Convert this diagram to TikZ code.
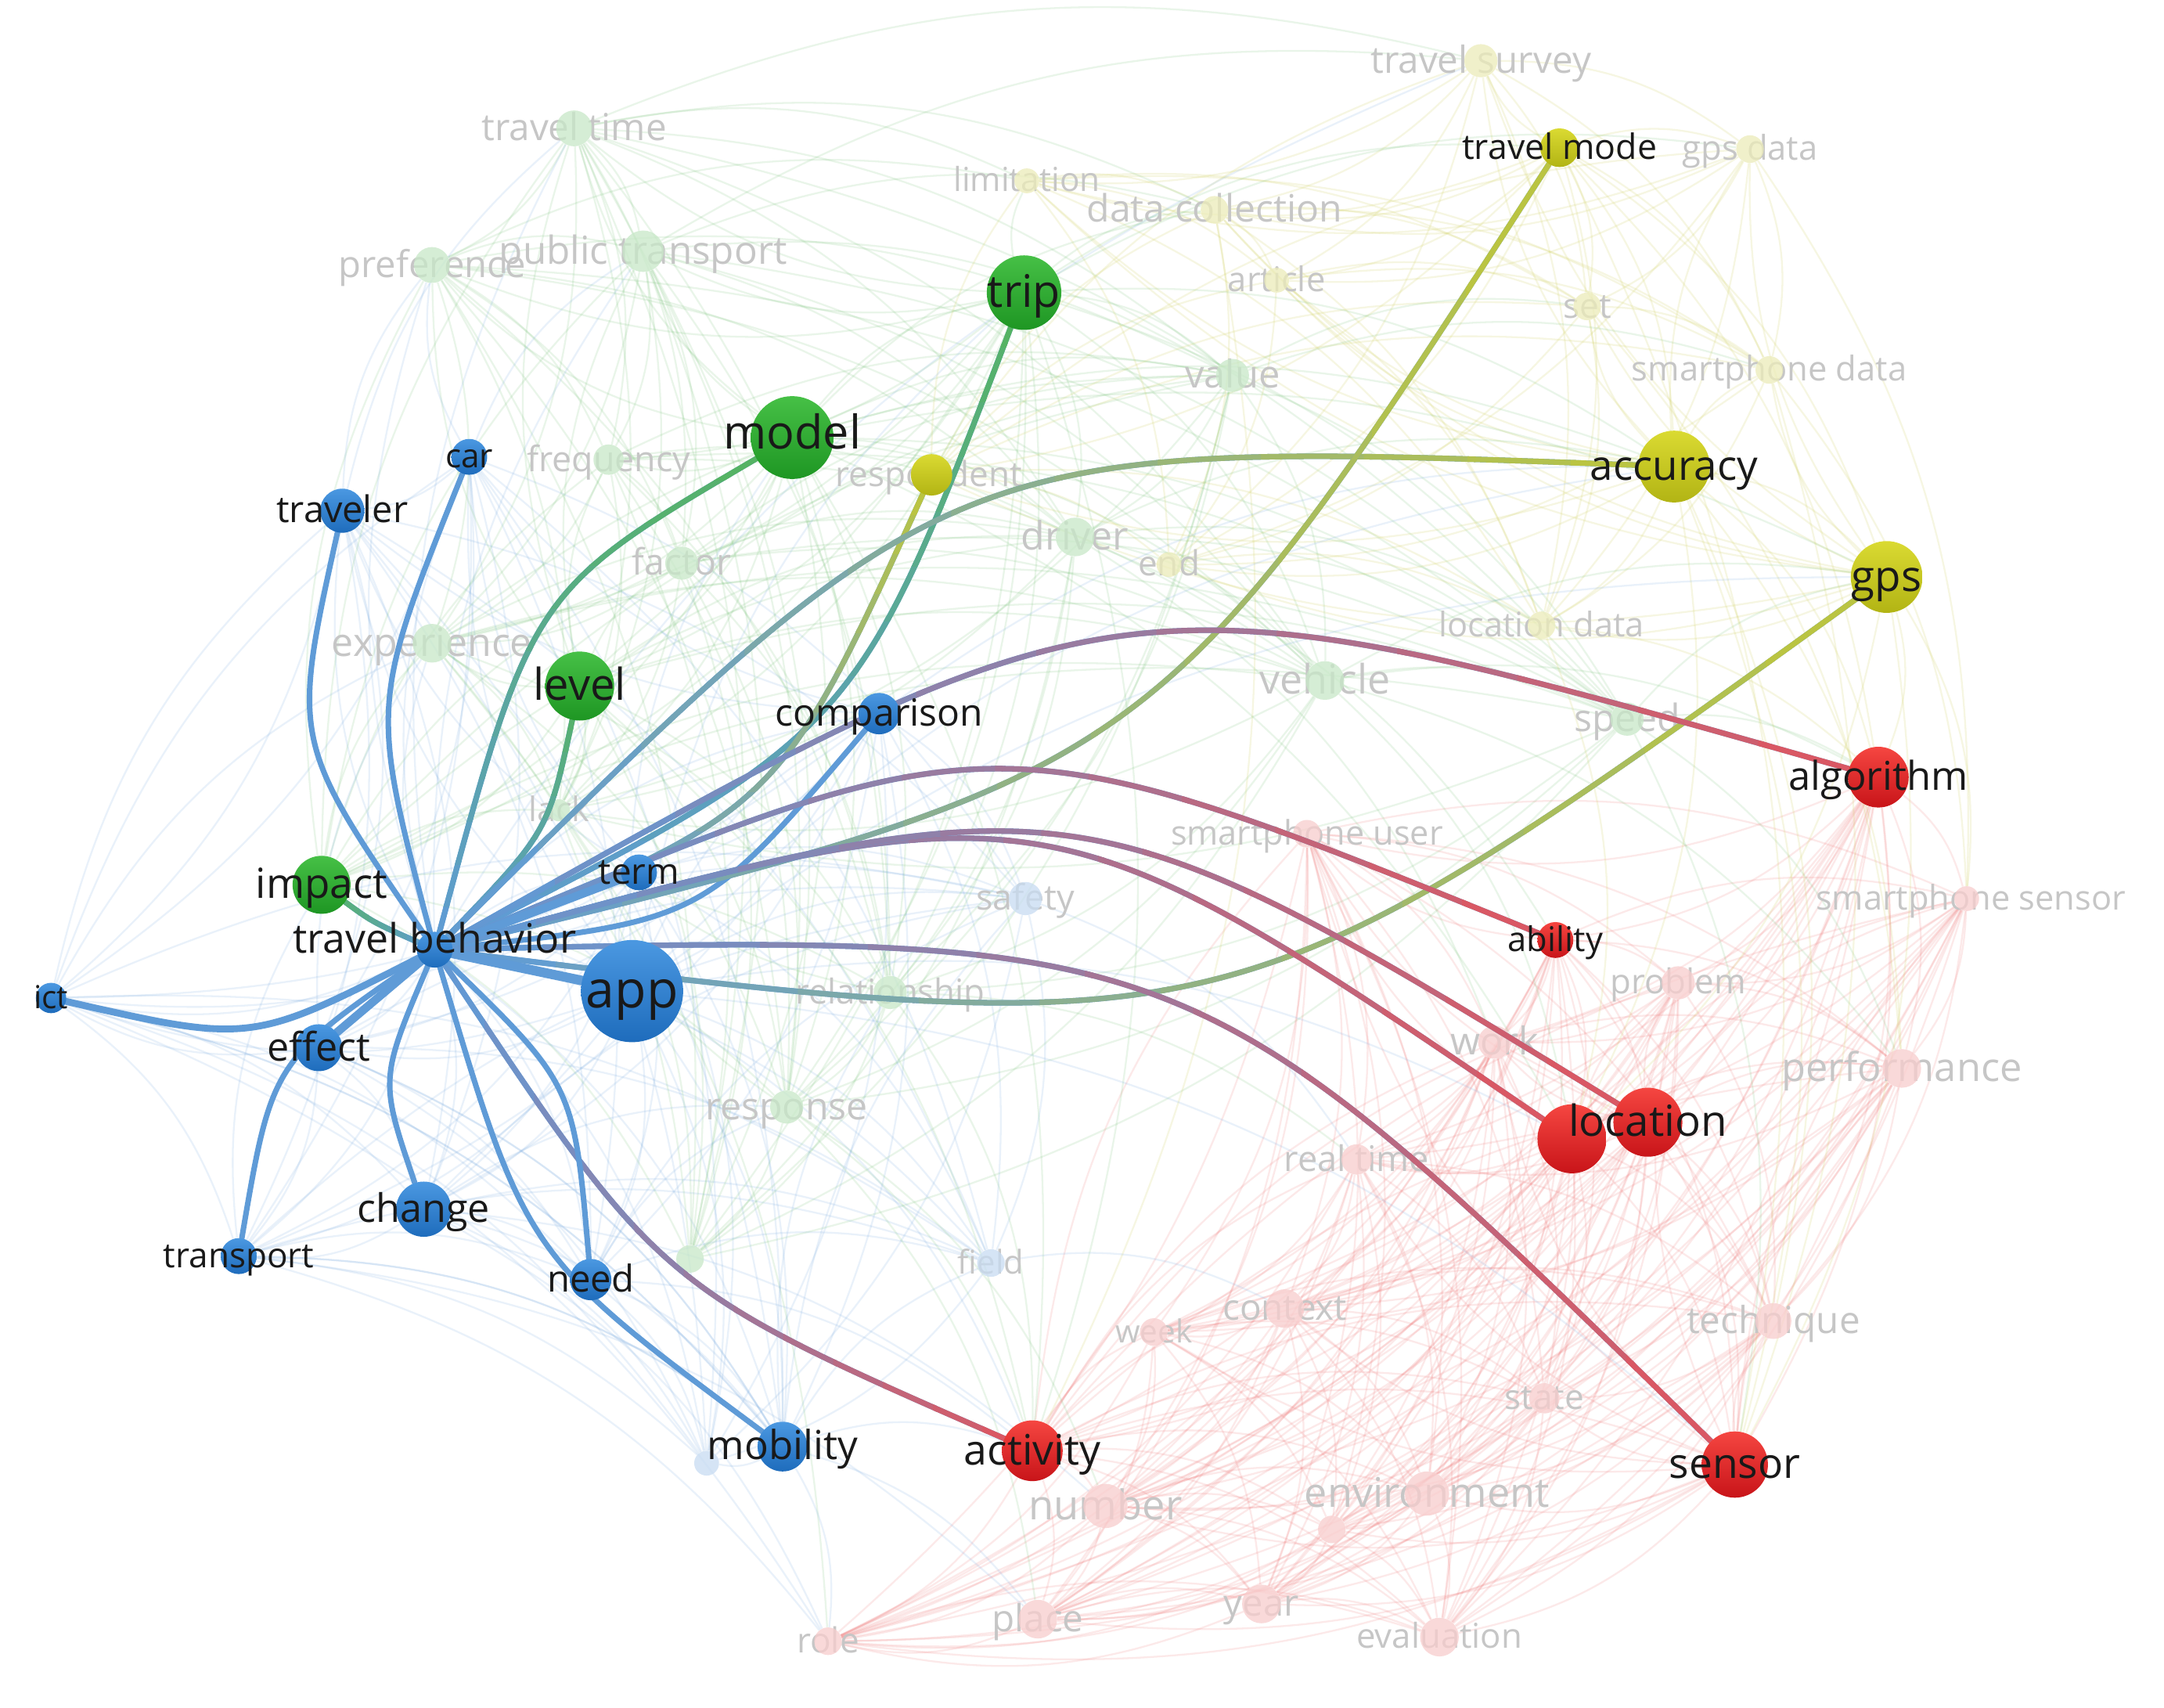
\documentclass[tikz,border=0pt]{standalone}
\usepackage{fontspec}
\setmainfont{Open Sans}
\pgfdeclarelayer{bg}
\pgfdeclarelayer{mid}
\pgfdeclarelayer{hl}
\pgfsetlayers{bg,mid,hl,main}

\definecolor{Btop}{RGB}{75,152,225}
\definecolor{Bbot}{RGB}{30,108,188}
\definecolor{Gtop}{RGB}{70,192,70}
\definecolor{Gbot}{RGB}{30,150,35}
\definecolor{Ytop}{RGB}{218,218,50}
\definecolor{Ybot}{RGB}{178,180,20}
\definecolor{Rtop}{RGB}{245,70,65}
\definecolor{Rbot}{RGB}{200,20,25}
\definecolor{eB}{RGB}{95,155,215}
\definecolor{eG}{RGB}{85,180,95}
\definecolor{eY}{RGB}{190,198,60}
\definecolor{eR}{RGB}{222,85,95}
\definecolor{fB}{RGB}{120,170,225}
\definecolor{fG}{RGB}{120,195,120}
\definecolor{fY}{RGB}{205,205,80}
\definecolor{fR}{RGB}{240,120,120}
\definecolor{cB}{RGB}{200,220,242}
\definecolor{cG}{RGB}{200,232,200}
\definecolor{cY}{RGB}{236,236,185}
\definecolor{cR}{RGB}{248,205,205}
\definecolor{ink}{RGB}{25,25,25}
\definecolor{pale}{RGB}{198,198,198}

\newcommand{\fsz}[1]{\fontsize{#1}{#1}\selectfont}

\tikzset{
  x=1pt, y=-1pt,
  ballnode/.style={circle, inner sep=0pt, minimum size=2*#1},
  hb/.style={ballnode=#1, top color=Btop, bottom color=Bbot},
  hg/.style={ballnode=#1, top color=Gtop, bottom color=Gbot},
  hy/.style={ballnode=#1, top color=Ytop, bottom color=Ybot},
  hr/.style={ballnode=#1, top color=Rtop, bottom color=Rbot},
  fb/.style={ballnode=#1, fill=cB, fill opacity=.75},
  fg/.style={ballnode=#1, fill=cG, fill opacity=.75},
  fy/.style={ballnode=#1, fill=cY, fill opacity=.75},
  fr/.style={ballnode=#1, fill=cR, fill opacity=.75},
  lab/.style={inner sep=0pt, text=ink, font=\fsz{#1}, text height=0.72*#1, text depth=0.06*#1},
  flab/.style={lab=#1, text=pale},
  faint/.style={line width=1.3pt, draw=#1, draw opacity=.16},
  hl/.style={line cap=round, line width=4pt},
}

\newcommand{\clique}[2]{%
  \foreach \a [count=\i] in {#2} {
    \foreach \b [count=\j] in {#2} {
      \ifnum\j>\i \draw[faint=#1] (\a) to[bend left=18] (\b); \fi
    }
  }%
}
% gradient link, colour changing along x: from, control, to, end colour, x0, x1
\newcommand{\gedgeX}[6]{%
  \draw[hl, draw=eB] (#1) .. controls #2 .. (#3);
  \foreach \k in {0,...,11} {
    \pgfmathsetmacro\xa{#5+(#6-#5)*\k/12}
    \pgfmathsetmacro\xb{#5+(#6-#5)*(\k+1.08)/12+(\k==11)*(#6-#5)*0.5}
    \pgfmathsetmacro\pc{100*(\k+0.5)/12}
    \begin{scope}
      \clip (\xa,-50) rectangle (\xb,1300);
      \draw[hl, draw=#4!\pc!eB] (#1) .. controls #2 .. (#3);
    \end{scope}
  }%
}
% gradient link, colour changing along y
\newcommand{\gedgeY}[6]{%
  \draw[hl, draw=eB] (#1) .. controls #2 .. (#3);
  \foreach \k in {0,...,11} {
    \pgfmathsetmacro\ya{#5+(#6-#5)*\k/12}
    \pgfmathsetmacro\yb{#5+(#6-#5)*(\k+1.08)/12+(\k==11)*(#6-#5)*0.5}
    \pgfmathsetmacro\pc{100*(\k+0.5)/12}
    \begin{scope}
      \clip (-50,\ya) rectangle (1700,\yb);
      \draw[hl, draw=#4!\pc!eB] (#1) .. controls #2 .. (#3);
    \end{scope}
  }%
}

\begin{document}
\begin{tikzpicture}
\begin{pgfonlayer}{bg}
\fill[white] (0,0) rectangle (1568,1237);
\end{pgfonlayer}
\useasboundingbox (0,0) rectangle (1568,1237);

% ---------- faded nodes ----------
\begin{pgfonlayer}{mid}
% green
\node[flab=27]   (ttime-l)  at (416,93)  {travel time};
\node[flab=26.8] (pref-l)   at (313,192) {preference};
\node[flab=28]   (ptrans-l) at (466,182) {public transport};
\node[flab=25.4] (freq-l)   at (441,333) {frequency};
\node[flab=26.3] (factor-l) at (494,408) {factor};
\node[flab=28.4] (exper-l)  at (313,466) {experience};
\node[flab=27.7] (value-l)  at (893,272) {value};
\node[flab=28.4] (driver-l) at (779,389) {driver};
\node[flab=29.4] (vehicle-l) at (960,493) {vehicle};
\node[flab=27.3] (speed-l)  at (1179,521) {speed};
\node[flab=24.8] (relat-l)  at (645,719) {relationship};
\node[flab=27.4] (respo-l)  at (570,802) {response};
\node[flab=24.5] (lack-l)   at (405,587) {lack};
% yellow
\node[flab=27]   (tsurv-l)  at (1073,44) {travel survey};
\node[flab=24.7] (gpsd-l)   at (1268,108) {gps data};
\node[flab=24]   (limit-l)  at (744,131) {limitation};
\node[flab=27.3] (dcoll-l)  at (880,152) {data collection};
\node[flab=24.7] (article-l) at (925,203) {article};
\node[flab=25]   (set-l)    at (1150,222) {set};
\node[flab=24.7] (sdata-l)  at (1282,268) {smartphone data};
\node[flab=25]   (endn-l)   at (847,409) {end};
\node[flab=24.6] (ldata-l)  at (1117,453) {location data};
\node[flab=25]   (respd-l)  at (673,344) {respondent};
% red
\node[flab=24.5] (suser-l)  at (947,604) {smartphone user};
\node[flab=24.6] (ssensor-l) at (1428,651) {smartphone sensor};
\node[flab=24.8] (problem-l) at (1216,712) {problem};
\node[flab=27.7] (work-l)   at (1083,755) {work};
\node[flab=28.7] (perf-l)   at (1378,774) {performance};
\node[flab=25.6] (rtime-l)  at (983,840) {real time};
\node[flab=26]   (context-l) at (931,948) {context};
\node[flab=23]   (week-l)   at (836,965) {week};
\node[flab=27]   (tech-l)   at (1285,957) {technique};
\node[flab=25]   (state-l)  at (1119,1013) {state};
\node[flab=29.7] (number-l) at (801,1091) {number};
\node[flab=29.6] (env-l)    at (1034,1082) {environment};
\node[flab=27]   (place-l)  at (752,1173) {place};
\node[flab=26.7] (year-l)   at (914,1162) {year};
\node[flab=25]   (role-l)   at (600,1189) {role};
\node[flab=24.8] (eval-l)   at (1043,1186) {evaluation};
% blue
\node[flab=25.5] (safety-l) at (743,651) {safety};
\node[flab=23.7] (field-l)  at (718,915) {field};

% faded circles
\node[fg=13] (ttime)  at (416,93) {};
\node[fg=13] (pref)   at (313,192) {};
\node[fg=15] (ptrans) at (466,182) {};
\node[fg=11] (freq)   at (441,333) {};
\node[fg=12] (factor) at (494,408) {};
\node[fg=14] (exper)  at (313,466) {};
\node[fg=12] (value)  at (893,272) {};
\node[fg=14] (driver) at (779,389) {};
\node[fg=14] (vehicle) at (960,493) {};
\node[fg=12] (speed)  at (1179,521) {};
\node[fg=12] (relat)  at (645,719) {};
\node[fg=12] (respo)  at (570,802) {};
\node[fg=8]  (lack)   at (405,587) {};
\node[fg=10] (gdot)   at (500,912) {};
\node[fy=12] (tsurv)  at (1073,44) {};
\node[fy=10] (gpsd)   at (1268,108) {};
\node[fy=9]  (limit)  at (744,131) {};
\node[fy=10] (dcoll)  at (880,152) {};
\node[fy=9]  (article) at (925,203) {};
\node[fy=10] (set)    at (1150,222) {};
\node[fy=10] (sdata)  at (1282,268) {};
\node[fy=9]  (endn)   at (847,409) {};
\node[fy=10] (ldata)  at (1117,453) {};
\node[fr=10] (suser)  at (947,604) {};
\node[fr=9]  (ssensor) at (1425,651) {};
\node[fr=12] (problem) at (1216,712) {};
\node[fr=12] (work)   at (1083,755) {};
\node[fr=14] (perf)   at (1378,774) {};
\node[fr=11] (rtime)  at (983,840) {};
\node[fr=14] (context) at (931,948) {};
\node[fr=10] (week)   at (836,965) {};
\node[fr=13] (tech)   at (1285,957) {};
\node[fr=11] (state)  at (1119,1013) {};
\node[fr=16] (number) at (801,1091) {};
\node[fr=16] (env)    at (1034,1082) {};
\node[fr=10] (rdot)   at (965,1108) {};
\node[fr=14] (place)  at (752,1173) {};
\node[fr=14] (year)   at (914,1162) {};
\node[fr=10] (role)   at (600,1189) {};
\node[fr=14] (eval)   at (1043,1186) {};
\node[fb=12] (safety) at (743,651) {};
\node[fb=10] (field)  at (718,915) {};
\node[fb=9]  (bdot)   at (512,1060) {};
\end{pgfonlayer}

% ---------- highlighted nodes ----------
\node[hb=13] (tb)    at (315,688) {};
\node[hb=37] (app)   at (458,718) {};
\node[hb=15] (comp)  at (637,517) {};
\node[hb=13] (term)  at (463,632) {};
\node[hb=13] (car)   at (340,331) {};
\node[hb=16] (trav)  at (248,370) {};
\node[hb=17] (eff)   at (231,759) {};
\node[hb=11] (ict)   at (37,723) {};
\node[hb=20] (chg)   at (307,876) {};
\node[hb=13] (tsp)   at (173,910) {};
\node[hb=15] (need)  at (428,927) {};
\node[hb=18] (mob)   at (567,1048) {};
\node[hg=30] (model) at (574,317) {};
\node[hg=27] (trip)  at (742,212) {};
\node[hg=25] (level) at (420,497) {};
\node[hg=21] (impact) at (233,641) {};
\node[hy=14] (tmode) at (1130,107) {};
\node[hy=26] (acc)   at (1213,338) {};
\node[hy=26] (gps)   at (1367,418) {};
\node[hy=15] (respd) at (675,344) {};
\node[hr=22] (alg)   at (1361,563) {};
\node[hr=13] (abil)  at (1127,681) {};
\node[hr=25] (loc)   at (1139,825) {};
\node[hr=25] (loc2)  at (1194,813) {};
\node[hr=22] (act)   at (748,1051) {};
\node[hr=24] (sensor) at (1257,1061) {};

\node[lab=29.4] (tb-l)    at (315,681) {travel behavior};
\node[lab=37.5] (app-l)   at (app)   {app};
\node[lab=27.2] (comp-l)  at (comp)  {comparison};
\node[lab=26]   (term-l)  at (term)  {term};
\node[lab=24]   (car-l)   at (car)   {car};
\node[lab=26.6] (trav-l)  at (trav)  {traveler};
\node[lab=28.5] (eff-l)   at (eff)   {effect};
\node[lab=23]   (ict-l)   at (ict)   {ict};
\node[lab=28.5] (chg-l)   at (chg)   {change};
\node[lab=25]   (tsp-l)   at (tsp)   {transport};
\node[lab=26.8] (need-l)  at (need)  {need};
\node[lab=29]   (mob-l)   at (mob)   {mobility};
\node[lab=33.7] (model-l) at (574,314) {model};
\node[lab=32.5] (trip-l)  at (trip)  {trip};
\node[lab=31.8] (level-l) at (level) {level};
\node[lab=30]   (impact-l) at (impact) {impact};
\node[lab=25.3] (tmode-l) at (tmode) {travel mode};
\node[lab=30]   (acc-l)   at (acc)   {accuracy};
\node[lab=31]   (gps-l)   at (gps)   {gps};
\node[lab=28.8] (alg-l)   at (alg)   {algorithm};
\node[lab=24.7] (abil-l)  at (abil)  {ability};
\node[lab=31]   (loc2-l)  at (loc2)  {location};
\node[lab=30.4] (act-l)   at (act)   {activity};
\node[lab=30.3] (sensor-l) at (sensor) {sensor};

% ---------- faint background links ----------
\begin{pgfonlayer}{bg}
\clique{fB}{tb,app,comp,term,car,trav,eff,ict,chg,tsp,need,mob,safety,field,bdot}
\clique{fG}{model,trip,level,impact,ttime,pref,ptrans,freq,factor,exper,value,driver,vehicle,speed,relat,respo,lack,gdot}
\clique{fY}{tmode,acc,gps,respd,tsurv,gpsd,limit,dcoll,article,set,sdata,endn,ldata}
\clique{fR}{alg,abil,loc,loc2,act,sensor,suser,ssensor,problem,work,perf,rtime,context,week,tech,state,number,env,rdot,place,year,role,eval}
\foreach \a/\b in {ttime/tsurv,ptrans/dcoll,trip/tmode,trip/dcoll,trip/limit,model/acc,model/dcoll,value/set,driver/acc,vehicle/gps,speed/gps,model/gps,trip/acc,pref/limit,ttime/limit,ttime/dcoll,value/sdata,trip/gpsd,ptrans/tsurv,driver/ldata}
  \draw[faint=fG] (\a) to[bend left=18] (\b);
\foreach \a/\b in {model/loc,vehicle/alg,speed/alg,driver/abil,relat/act,respo/act,respo/number,trip/act,model/act,level/act,vehicle/perf,speed/sensor,respo/place,relat/rtime,exper/role,speed/perf,vehicle/loc,driver/work}
  \draw[faint=fG] (\a) to[bend left=18] (\b);
\foreach \a/\b in {gps/alg,gps/sensor,gps/loc,acc/alg,acc/perf,acc/loc,acc/sensor,ldata/loc,ldata/alg,sdata/sensor,sdata/ssensor,gpsd/ssensor,tmode/alg,tmode/sensor,set/perf,dcoll/act,gps/ssensor,acc/tech}
  \draw[faint=fY] (\a) to[bend left=18] (\b);
\foreach \a/\b in {tb/ttime,tb/ptrans,tb/pref,tb/exper,app/model,app/trip,car/ptrans,car/pref,trav/pref,trav/ttime,eff/exper,ict/exper,chg/respo,need/respo,mob/relat,tsp/impact,app/loc,app/act,mob/role,mob/place,mob/act,need/act,chg/role,tsp/role,ict/role,ict/mob,tsp/mob,eff/mob,field/context,safety/rtime,app/sensor,app/acc,app/gps,tb/tsurv,comp/acc,ict/trav,ict/car,tsp/place,chg/number}
  \draw[faint=fB] (\a) to[bend left=18] (\b);
\end{pgfonlayer}

% ---------- highlighted links of "travel behavior" ----------
\begin{pgfonlayer}{hl}
\draw[hl, draw=eB] (tb) .. controls (268,510) .. (car);
\draw[hl, draw=eB] (tb) .. controls (211,537) .. (trav);
\gedgeY{tb}{(385,428)}{model}{eG}{688}{317}
\gedgeY{tb}{(397,603)}{level}{eG}{688}{497}
\gedgeY{tb}{(620,532)}{trip}{eG}{688}{212}
\gedgeY{tb}{(564,588)}{respd}{eY}{688}{344}
\draw[hl, draw=eB] (tb) .. controls (510,667) .. (comp);
\gedgeX{tb}{(688,318)}{acc}{eY}{315}{1213}
\gedgeX{tb}{(838,560)}{tmode}{eY}{315}{1130}
\gedgeX{tb}{(894,759)}{gps}{eY}{315}{1367}
\gedgeX{tb}{(812,407)}{alg}{eR}{315}{1361}
\gedgeX{tb}{(720,516)}{abil}{eR}{315}{1127}
\gedgeX{tb}{(759,566)}{loc}{eR}{315}{1139}
\gedgeX{tb}{(782,560)}{loc2}{eR}{315}{1194}
\gedgeX{tb}{(864,676)}{sensor}{eR}{315}{1257}
\gedgeX{tb}{(478,933)}{act}{eR}{315}{748}
\draw[hl, draw=eB] (tb) .. controls (381,910) .. (mob);
\draw[hl, draw=eB] (tb) .. controls (416,786) .. (need);
\draw[hl, draw=eB] (tb) .. controls (275,782) .. (chg);
\draw[hl, line width=5pt, draw=eB] (tb) .. controls (182,756) .. (ict);
\draw[hl, draw=eB] (tb) .. controls (197,769) .. (tsp);
\draw[hl, line width=6pt, draw=eB] (tb) -- (eff);
\gedgeX{tb}{(270,668)}{impact}{eG}{315}{233}
\draw[hl, line width=6pt, draw=eB] (tb) -- (term);
\draw[hl, line width=7pt, draw=eB] (tb) -- (app);
\end{pgfonlayer}
\end{tikzpicture}
\end{document}
